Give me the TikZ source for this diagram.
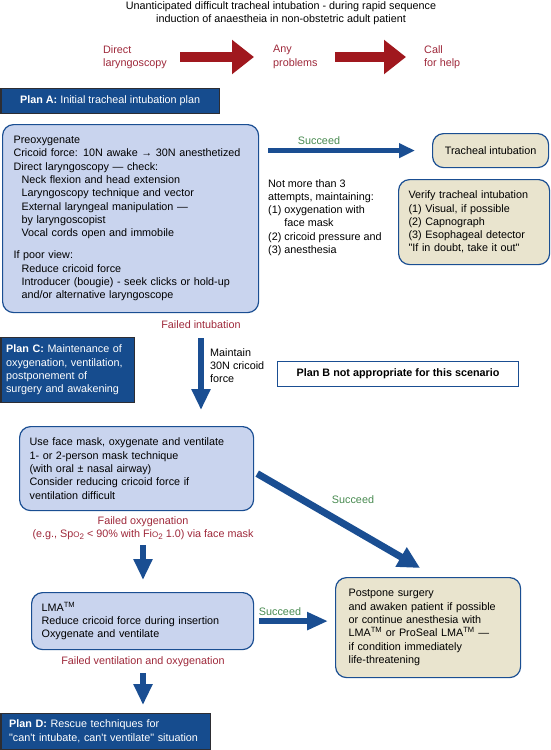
\documentclass[tikz,border=0pt]{standalone}
\usepackage{fontspec}
\setmainfont{Liberation Sans}[Ligatures=TeXOff]
\usetikzlibrary{arrows.meta}

\definecolor{planblue}{RGB}{22,76,142}
\definecolor{planedge}{RGB}{45,45,50}
\definecolor{flowblue}{RGB}{26,78,146}
\definecolor{paleblue}{RGB}{201,212,238}
\definecolor{paletan}{RGB}{233,228,206}
\definecolor{failred}{RGB}{158,40,58}
\definecolor{okgreen}{RGB}{72,138,80}
\definecolor{bigred}{RGB}{160,24,30}

\tikzset{
  planbox/.style={draw=planedge, line width=1.2pt, fill=planblue, text=white, anchor=north west, inner ysep=0pt},
  bluebox/.style={draw=flowblue, line width=1.2pt, rounded corners=11pt, fill=paleblue, anchor=north west, inner ysep=0pt, align=left},
  tanbox/.style={draw=flowblue, line width=1.2pt, rounded corners=11pt, fill=paletan, anchor=north west, inner ysep=0pt, align=left},
  redtxt/.style={text=failred, inner sep=0pt},
  oktxt/.style={text=okgreen, inner sep=0pt},
  plaintxt/.style={inner sep=0pt, align=left},
  bigarrow/.style={draw=bigred, line width=10pt, -{Triangle[length=22pt,width=33pt]}},
  flow/.style={draw=flowblue, line width=6.5pt, -{Triangle[length=21pt,width=18pt]}}
}

\begin{document}
\begin{tikzpicture}[x=1pt,y=1pt,font=\fontsize{10.8}{13.3}\selectfont]
    \useasboundingbox (0,0) rectangle (550,-750);

    \node[inner sep=0pt, align=center, font=\fontsize{10.8}{12.5}\selectfont] (title) at (281,-13)
        {Unanticipated difficult tracheal intubation - during rapid sequence\\
         induction of anaestheia in non-obstetric adult patient};

    \node[redtxt, align=left, anchor=west] (direct) at (103,-57) {Direct\\laryngoscopy};
    \node[redtxt, align=left, anchor=west] (anyprob) at (273,-57) {Any\\problems};
    \node[redtxt, align=left, anchor=west] (callhelp) at (424,-57) {Call\\for help};
    \draw[bigarrow] ([xshift=13pt]direct.east) -- ([xshift=-19pt]anyprob.west);
    \draw[bigarrow] ([xshift=17pt]anyprob.east) -- ([xshift=-18pt]callhelp.west);

    \node[planbox, minimum width=218pt, minimum height=25pt] (planA) at (0.5,-88)
        {\textbf{Plan A:} Initial tracheal intubation plan};

    \node[bluebox, inner xsep=11pt, text width=234pt, minimum height=188pt] (intub) at (2,-124)
        {Preoxygenate\\
         Cricoid force: 10N awake \textbf{→} 30N anesthetized\\
         Direct laryngoscopy — check:\\
         \hspace*{8pt}Neck flexion and head extension\\
         \hspace*{8pt}Laryngoscopy technique and vector\\
         \hspace*{8pt}External laryngeal manipulation —\\
         \hspace*{8pt}by laryngoscopist\\
         \hspace*{8pt}Vocal cords open and immobile\\[9pt]
         If poor view:\\
         \hspace*{8pt}Reduce cricoid force\\
         \hspace*{8pt}Introducer (bougie) - seek clicks or hold-up\\
         \hspace*{8pt}and/or alternative laryngoscope};

    \node[tanbox, align=center, minimum width=116pt, minimum height=34pt] (trach) at (432,-133)
        {Tracheal intubation};
    \node[tanbox, inner xsep=10pt, text width=131pt, minimum height=85pt] (verify) at (398,-179)
        {Verify tracheal intubation\\
         (1) Visual, if possible\\
         (2) Capnograph\\
         (3) Esophageal detector\\
         "If in doubt, take it out"};

    \draw[flow, line width=5pt, -{Triangle[length=16pt,width=14pt]}]
        ([xshift=9pt]intub.east |- trach.west) -- ([xshift=-17pt]trach.west);
    \node[oktxt] (succA) at (319,-141) {Succeed};

    \node[plaintxt, anchor=north west] (attempts) at (268,-179)
        {Not more than 3\\
         attempts, maintaining:\\
         (1) oxygenation with\\
         \phantom{(1)}\ face mask\\
         (2) cricoid pressure and\\
         (3) anesthesia};

    \node[redtxt] (failint) at (201,-325) {Failed intubation};
    \node[plaintxt, anchor=north west] (maintain) at (210,-348) {Maintain\\30N cricoid\\force};

    \node[planbox, align=left, inner xsep=5pt, text width=123pt, minimum height=65pt] (planC) at (0.5,-337)
        {\textbf{Plan C:} Maintenance of\\
         oxygenation, ventilation,\\
         postponement of\\
         surgery and awakening};

    \node[draw=flowblue, line width=1.2pt, fill=white, anchor=north west, minimum width=241pt, minimum height=25pt, inner ysep=0pt] (planB) at (277,-361)
        {\textbf{Plan B not appropriate for this scenario}};

    \node[bluebox, inner xsep=10pt, text width=214pt, minimum height=84pt] (mask) at (19,-426)
        {Use face mask, oxygenate and ventilate\\
         1- or 2-person mask technique\\
         (with oral ± nasal airway)\\
         Consider reducing cricoid force if\\
         ventilation difficult};
    \draw[flow] ([yshift=-9pt]failint.south) -- ([yshift=16pt]failint.south |- mask.north);

    \node[redtxt, align=center] (failoxy) at (143,-528)
        {Failed oxygenation\\
         (e.g., Sp{\footnotesize O}\raisebox{-2.5pt}{\footnotesize 2} < 90\% with Fi{\footnotesize O}\raisebox{-2.5pt}{\footnotesize 2} 1.0) via face mask};

    \node[bluebox, inner xsep=10pt, text width=202pt, minimum height=57pt] (lma) at (31,-592)
        {LMA\textsuperscript{TM}\\
         Reduce cricoid force during insertion\\
         Oxygenate and ventilate};
    \draw[flow] ([yshift=-5pt]failoxy.south) -- ([yshift=12pt]failoxy.south |- lma.north);

    \node[tanbox, inner xsep=13pt, text width=159pt, minimum height=100pt] (post) at (335,-577)
        {Postpone surgery\\
         and awaken patient if possible\\
         or continue anesthesia with\\
         LMA\textsuperscript{TM} or ProSeal LMA\textsuperscript{TM} —\\
         if condition immediately\\
         life-threatening};

    \draw[flow, line width=7pt, -{Triangle[length=22pt,width=21pt]}]
        ([shift={(3pt,-5pt)}]mask.east) -- ([shift={(-8pt,9pt)}]post.north);
    \node[oktxt] (succB) at (353,-500) {Succeed};

    \draw[flow, line width=6pt, -{Triangle[length=21pt,width=17pt]}]
        ([xshift=5pt]lma.east) -- ([xshift=-7pt]lma.east -| post.west);
    \node[oktxt] (succC) at (280,-612) {Succeed};

    \node[redtxt] (failvent) at (143,-662) {Failed ventilation and oxygenation};

    \node[planbox, align=left, inner xsep=8pt, text width=193pt, minimum height=35.5pt] (planD) at (0.5,-713)
        {\textbf{Plan D:} Rescue techniques for\\
         "can't intubate, can't ventilate" situation};
    \draw[flow] ([yshift=-6pt]failvent.south) -- ([yshift=8pt]failvent.south |- planD.north);
\end{tikzpicture}
\end{document}
